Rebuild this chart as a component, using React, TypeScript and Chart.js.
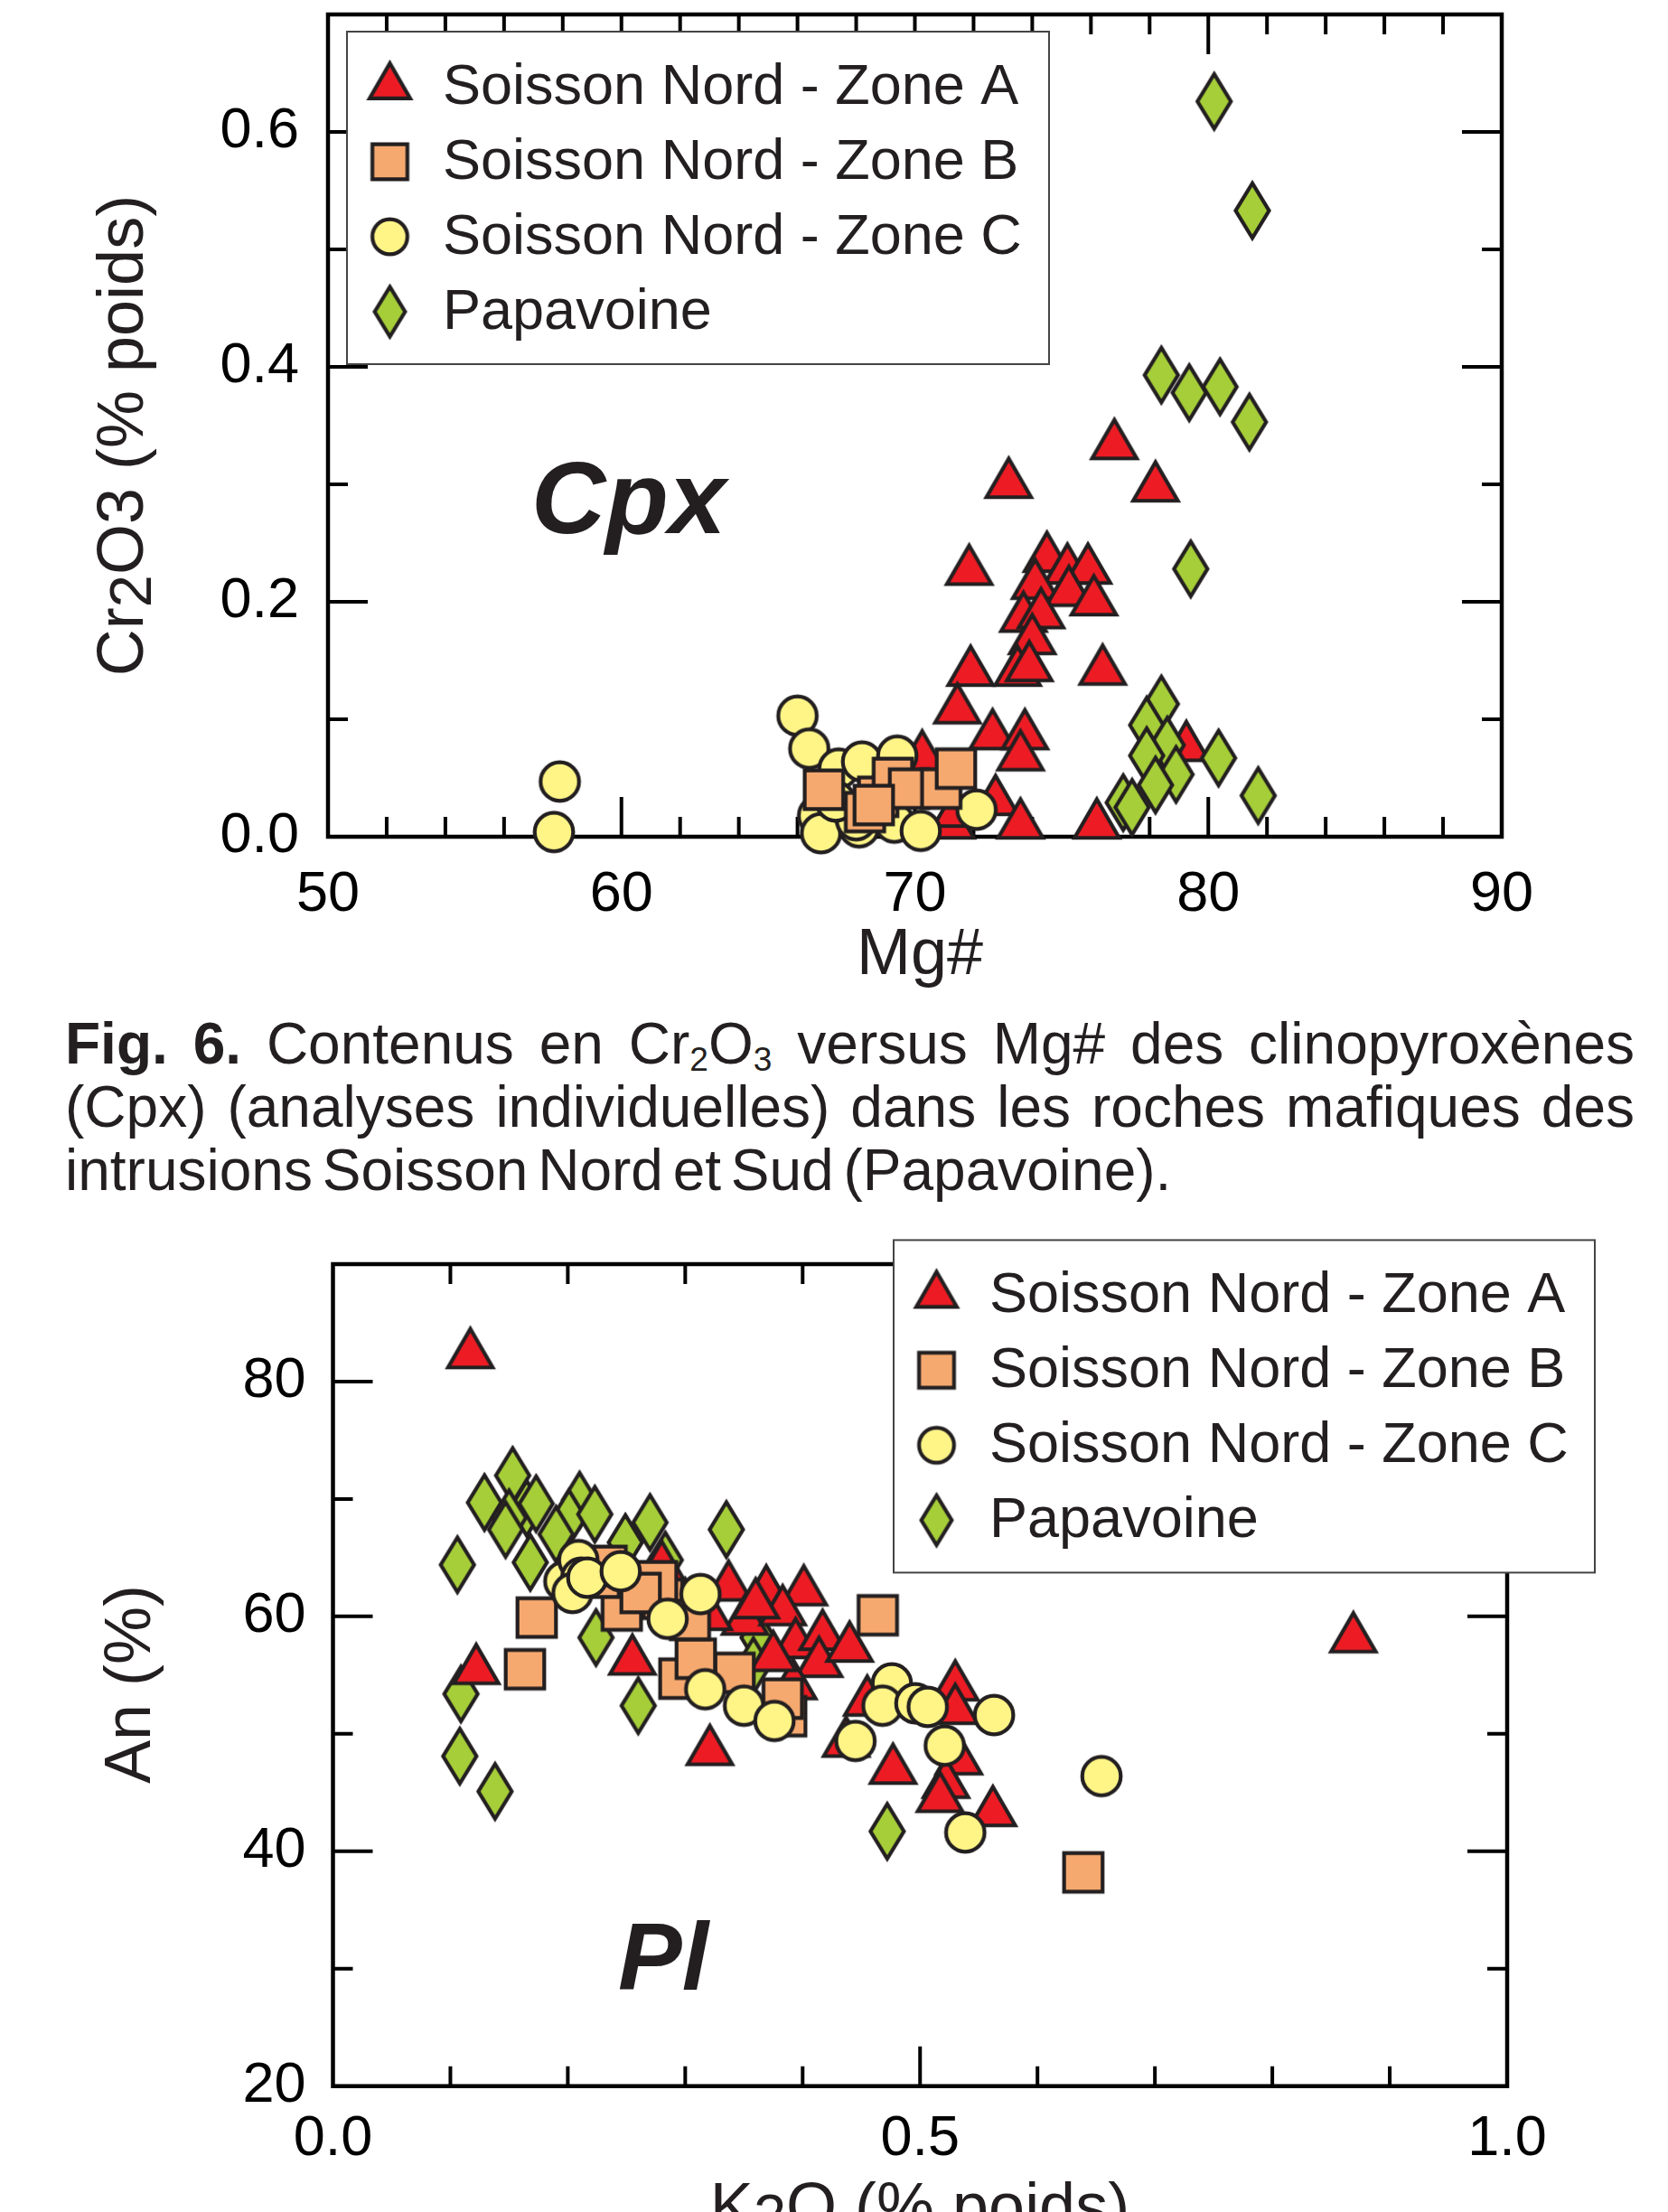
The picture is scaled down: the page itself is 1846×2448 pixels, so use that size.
import React, { useEffect, useRef } from "react";
import { Chart, registerables } from "chart.js";

Chart.register(...registerables);

const FONT = '"Liberation Sans", Arial, Helvetica, sans-serif';
const INK = "#231f20";

// ---------------- Series labels & colours ----------------
const seriesLabels = [
  "Soisson Nord - Zone A",
  "Soisson Nord - Zone B",
  "Soisson Nord - Zone C",
  "Papavoine",
];
const seriesShapes = ["triangle", "square", "circle", "diamond"];
const seriesColors = ["#ed1c24", "#f6a96f", "#fff587", "#a6ce39"];

// ---------------- Cpx chart data (Mg#, Cr2O3 % poids) ----------------
const cpxZoneA: [number, number][] = [
  [76.8, 0.333], [73.2, 0.3], [78.2, 0.297], [71.85, 0.226], [74.5, 0.237],
  [75.2, 0.227], [75.9, 0.227], [74.1, 0.214], [75.25, 0.208], [76.1, 0.2],
  [73.7, 0.186], [74.3, 0.189], [74.0, 0.167], [71.9, 0.14], [73.5, 0.14],
  [73.9, 0.144], [76.4, 0.141], [71.45, 0.108], [72.65, 0.086], [73.75, 0.086],
  [73.6, 0.068], [79.25, 0.076], [72.75, 0.03], [73.6, 0.01], [76.2, 0.01],
  [71.25, 0.01], [70.25, 0.068], [71.4, 0.02],
];
const cpxZoneB: [number, number][] = [
  [66.9, 0.04], [68.3, 0.021], [68.75, 0.034], [69.25, 0.05], [69.8, 0.041],
  [70.9, 0.041], [71.4, 0.058], [68.6, 0.027],
];
const cpxZoneC: [number, number][] = [
  [57.9, 0.047], [57.7, 0.004], [66.0, 0.103], [66.4, 0.075], [67.4, 0.058],
  [68.2, 0.064], [69.4, 0.069], [66.7, 0.018], [66.8, 0.003], [68.1, 0.008],
  [68.0, 0.014], [69.3, 0.012], [70.2, 0.005], [72.1, 0.023], [67.3, 0.03],
];
const cpxPapavoine: [number, number][] = [
  [80.2, 0.626], [81.5, 0.533], [78.4, 0.393], [79.35, 0.378], [80.4, 0.383],
  [81.4, 0.353], [79.4, 0.228], [78.4, 0.113], [77.9, 0.095], [78.6, 0.078],
  [77.9, 0.069], [78.9, 0.053], [78.2, 0.044], [80.35, 0.067], [81.7, 0.035],
  [77.1, 0.029], [77.4, 0.025],
];
const cpxXTickLabels = [50, 60, 70, 80, 90];
const cpxYTickLabels = [0, 0.2, 0.4, 0.6];

// ---------------- Pl chart data (K2O % poids, An %) ----------------
const plZoneA: [number, number][] = [
  [0.117, 82.3], [0.122, 55.4], [0.255, 56.2], [0.321, 48.5], [0.337, 62.5],
  [0.369, 62.1], [0.401, 62.1], [0.351, 59.6], [0.383, 60.4], [0.394, 57.6],
  [0.417, 58.3], [0.414, 56.0], [0.392, 54.1], [0.44, 57.3], [0.455, 52.7],
  [0.437, 49.2], [0.53, 54.0], [0.53, 52.0], [0.533, 47.7], [0.477, 46.9],
  [0.522, 45.7], [0.517, 44.5], [0.562, 43.3], [0.869, 58.1], [0.28, 64.2],
  [0.3, 61.0], [0.32, 60.0], [0.375, 56.5], [0.36, 61.0],
];
const plZoneB: [number, number][] = [
  [0.1735, 59.9], [0.1635, 55.5], [0.295, 54.7], [0.342, 55.2], [0.309, 56.4],
  [0.386, 51.5], [0.383, 53.0], [0.246, 60.5], [0.281, 61.5], [0.276, 63.0],
  [0.227, 63.3], [0.233, 64.3], [0.304, 59.7], [0.262, 62.0], [0.464, 60.1],
  [0.639, 38.2],
];
const plZoneC: [number, number][] = [
  [0.197, 63.0], [0.209, 64.8], [0.2115, 63.3], [0.204, 62.0], [0.2166, 63.3],
  [0.245, 63.85], [0.313, 61.9], [0.285, 59.8], [0.317, 53.8], [0.35, 52.4],
  [0.376, 51.1], [0.476, 54.3], [0.468, 52.4], [0.496, 52.6], [0.5065, 52.3],
  [0.445, 49.4], [0.521, 49.0], [0.563, 51.6], [0.6545, 46.4], [0.5385, 41.6],
];
const plPapavoine: [number, number][] = [
  [0.153, 72.0], [0.129, 69.7], [0.165, 69.2], [0.173, 69.6], [0.15, 68.4],
  [0.147, 67.4], [0.168, 64.6], [0.106, 64.4], [0.21, 69.9], [0.201, 68.4],
  [0.223, 68.7], [0.27, 68.0], [0.335, 67.4], [0.249, 66.3], [0.283, 64.8],
  [0.224, 58.2], [0.362, 58.2], [0.358, 55.8], [0.109, 53.4], [0.26, 52.4],
  [0.108, 48.1], [0.138, 45.1], [0.472, 41.7], [0.19, 67.0],
];
const plXTickLabels = [0, 0.5, 1];
const plYTickLabels = [20, 40, 60, 80];

// ---------------- Caption ----------------
const captionBold = "Fig. 6.";
const captionLine2 = "(Cpx) (analyses individuelles) dans les roches mafiques des";
const captionLine3 = "intrusions Soisson Nord et Sud (Papavoine).";

// ---------------- Marker sprites ----------------
function makeMarker(shape: string, fill: string, k = 1): HTMLCanvasElement {
  const c = document.createElement("canvas");
  c.width = 80;
  c.height = 90;
  const ctx = c.getContext("2d")!;
  ctx.translate(40, 45);
  ctx.beginPath();
  if (shape === "triangle") {
    const r = 28.5 * k;
    const s = Math.sqrt(3) / 2;
    ctx.moveTo(0, -r);
    ctx.lineTo(r * s, r / 2);
    ctx.lineTo(-r * s, r / 2);
    ctx.closePath();
  } else if (shape === "circle") {
    ctx.arc(0, 0, 21.3 * k, 0, Math.PI * 2);
  } else if (shape === "square") {
    const h = 21.3 * k;
    ctx.rect(-h, -h, 2 * h, 2 * h);
  } else {
    const a = 18.5 * k;
    const b = 30.3 * k;
    ctx.moveTo(0, -b);
    ctx.lineTo(a, 0);
    ctx.lineTo(0, b);
    ctx.lineTo(-a, 0);
    ctx.closePath();
  }
  ctx.fillStyle = fill;
  ctx.fill();
  ctx.lineWidth = 4.2;
  ctx.lineJoin = "miter";
  ctx.miterLimit = 10;
  ctx.strokeStyle = INK;
  ctx.stroke();
  return c;
}

type Part = { t: string; sub?: boolean };

function drawParts(ctx: CanvasRenderingContext2D, parts: Part[], size: number) {
  const fonts = parts.map((p) => `${p.sub ? Math.round(size * 0.9) : size}px ${FONT}`);
  let total = 0;
  const widths = parts.map((p, i) => {
    ctx.font = fonts[i];
    const w = ctx.measureText(p.t).width;
    total += w;
    return w;
  });
  let x = -total / 2;
  parts.forEach((p, i) => {
    ctx.font = fonts[i];
    ctx.fillText(p.t, x, p.sub ? size * 0.12 : 0);
    x += widths[i];
  });
}

type Deco = {
  xTitle: Part[];
  xTitleX: number;
  xTitleY: number;
  yTitle: Part[];
  yTitleX: number;
  yTitleY: number;
  tag: string;
  tagX: number;
  tagY: number;
  tagSize: number;
  legend: { left: number; top: number; width: number; height: number };
  xMinor: number;
  yMinor: number;
  xLabels: number[];
  yLabels: number[];
};

function tickValues(min: number, max: number, step: number): number[] {
  const n = Math.round((max - min) / step);
  const out: number[] = [];
  for (let i = 1; i < n; i++) out.push(min + i * step);
  return out;
}

function hasLabel(list: number[], v: number) {
  return list.some((l) => Math.abs(l - v) < 1e-6);
}

function makeDecoPlugin(d: Deco) {
  return {
    id: "deco",
    beforeDatasetsDraw(chart: any) {
      const { ctx, chartArea: a, scales } = chart;
      const xs = scales.x;
      const ys = scales.y;
      const MAJ = 44;
      const MIN = 22;
      ctx.save();
      ctx.strokeStyle = "#000";
      ctx.lineWidth = 4;
      ctx.lineCap = "butt";
      ctx.beginPath();
      tickValues(xs.min, xs.max, d.xMinor).forEach((v) => {
        const px = xs.getPixelForValue(v);
        const len = hasLabel(d.xLabels, v) ? MAJ : MIN;
        ctx.moveTo(px, a.bottom);
        ctx.lineTo(px, a.bottom - len);
        ctx.moveTo(px, a.top);
        ctx.lineTo(px, a.top + len);
      });
      tickValues(ys.min, ys.max, d.yMinor).forEach((v) => {
        const py = ys.getPixelForValue(v);
        const len = hasLabel(d.yLabels, v) ? MAJ : MIN;
        ctx.moveTo(a.left, py);
        ctx.lineTo(a.left + len, py);
        ctx.moveTo(a.right, py);
        ctx.lineTo(a.right - len, py);
      });
      ctx.stroke();
      ctx.lineWidth = 4.5;
      ctx.strokeRect(a.left, a.top, a.right - a.left, a.bottom - a.top);
      ctx.restore();
    },
    afterDraw(chart: any) {
      const ctx: CanvasRenderingContext2D = chart.ctx;
      ctx.save();
      ctx.fillStyle = INK;
      ctx.textBaseline = "alphabetic";
      ctx.textAlign = "left";
      ctx.save();
      ctx.translate(d.xTitleX, d.xTitleY);
      drawParts(ctx, d.xTitle, 72);
      ctx.restore();
      ctx.save();
      ctx.translate(d.yTitleX, d.yTitleY);
      ctx.rotate(-Math.PI / 2);
      drawParts(ctx, d.yTitle, 72);
      ctx.restore();
      ctx.font = `italic bold ${d.tagSize}px ${FONT}`;
      ctx.fillText(d.tag, d.tagX, d.tagY);
      const L = d.legend;
      ctx.fillStyle = "#fff";
      ctx.fillRect(L.left, L.top, L.width, L.height);
      ctx.strokeStyle = "#444";
      ctx.lineWidth = 2;
      ctx.strokeRect(L.left, L.top, L.width, L.height);
      ctx.font = `63px ${FONT}`;
      ctx.fillStyle = INK;
      seriesLabels.forEach((lab, i) => {
        const cy = L.top + 61 + 83 * i;
        const m = legendMarkers[i];
        ctx.drawImage(m, L.left + 47.5 - m.width / 2, cy - m.height / 2);
        ctx.fillText(lab, L.left + 106, cy + 18.5);
      });
      ctx.restore();
    },
  };
}

const plotMarkers = seriesShapes.map((s, i) => makeMarker(s, seriesColors[i], 1));
const legendMarkers = seriesShapes.map((s, i) => makeMarker(s, seriesColors[i], 0.91));

function tickFont() {
  return { family: FONT, size: 63, lineHeight: 1 };
}

function ds(i: number, pts: [number, number][], order: number) {
  return {
    label: seriesLabels[i],
    data: pts.map(([x, y]) => ({ x, y })),
    pointStyle: plotMarkers[i],
    pointRadius: 24,
    pointHoverRadius: 24,
    clip: false as any,
    order,
  };
}

type ChartSpec = {
  width: number;
  height: number;
  top: number;
  datasets: any[];
  xMin: number;
  xMax: number;
  xStep: number;
  xLabels: number[];
  xFmt: (v: number) => string;
  yMin: number;
  yMax: number;
  yStep: number;
  yLabels: number[];
  yFmt: (v: number) => string;
  area: { left: number; right: number; top: number; bottom: number };
  xPad: number;
  yPad: number;
  deco: Deco;
};

function zeroPad(s: any) {
  s.paddingTop = 0;
  s.paddingBottom = 0;
  s.paddingLeft = 0;
  s.paddingRight = 0;
}

function ScatterPanel({ spec }: { spec: ChartSpec }) {
  const ref = useRef<HTMLCanvasElement>(null);
  useEffect(() => {
    const a = spec.area;
    const chart = new Chart(ref.current!, {
      type: "scatter",
      data: { datasets: spec.datasets },
      options: {
        responsive: false,
        maintainAspectRatio: false,
        devicePixelRatio: 1,
        animation: false,
        events: [],
        layout: {
          autoPadding: false,
          padding: { left: 0, top: a.top, right: spec.width - a.right, bottom: 0 },
        },
        plugins: { legend: { display: false }, tooltip: { enabled: false } },
        scales: {
          x: {
            type: "linear",
            min: spec.xMin,
            max: spec.xMax,
            grid: { display: false, drawTicks: false },
            border: { display: false },
            ticks: {
              stepSize: spec.xStep,
              autoSkip: false,
              maxRotation: 0,
              padding: spec.xPad,
              color: "#000",
              font: tickFont(),
              callback: (v: any) => (hasLabel(spec.xLabels, Number(v)) ? spec.xFmt(Number(v)) : null),
            },
            afterFit: (s: any) => {
              s.height = spec.height - a.bottom;
              zeroPad(s);
            },
          },
          y: {
            type: "linear",
            min: spec.yMin,
            max: spec.yMax,
            grid: { display: false, drawTicks: false },
            border: { display: false },
            ticks: {
              stepSize: spec.yStep,
              autoSkip: false,
              padding: spec.yPad,
              color: "#000",
              font: tickFont(),
              callback: (v: any) => (hasLabel(spec.yLabels, Number(v)) ? spec.yFmt(Number(v)) : null),
            },
            afterFit: (s: any) => {
              s.width = a.left;
              zeroPad(s);
            },
          },
        },
      } as any,
      plugins: [makeDecoPlugin(spec.deco) as any],
    });
    return () => chart.destroy();
  }, [spec]);
  return (
    <canvas
      ref={ref}
      width={spec.width}
      height={spec.height}
      style={{ position: "absolute", left: 0, top: spec.top, width: spec.width, height: spec.height, display: "block" }}
    />
  );
}

const cpxSpec: ChartSpec = {
  width: 1846,
  height: 1100,
  top: 0,
  datasets: [
    ds(0, cpxZoneA, 3),
    ds(1, cpxZoneB, 1),
    ds(2, cpxZoneC, 2),
    ds(3, cpxPapavoine, 0),
  ],
  xMin: 50,
  xMax: 90,
  xStep: 2,
  xLabels: cpxXTickLabels,
  xFmt: (v) => String(Math.round(v)),
  yMin: 0,
  yMax: 0.7,
  yStep: 0.1,
  yLabels: cpxYTickLabels,
  yFmt: (v) => v.toFixed(1),
  area: { left: 363, right: 1662, top: 16, bottom: 926 },
  xPad: 33,
  yPad: 32,
  deco: {
    xTitle: [{ t: "Mg#" }],
    xTitleX: 1018,
    xTitleY: 1078,
    yTitle: [{ t: "Cr" }, { t: "2", sub: true }, { t: "O" }, { t: "3" }, { t: " (% poids)" }],
    yTitleX: 158,
    yTitleY: 482,
    tag: "Cpx",
    tagX: 588,
    tagY: 590,
    tagSize: 114,
    legend: { left: 384, top: 35, width: 777, height: 368 },
    xMinor: 2,
    yMinor: 0.1,
    xLabels: cpxXTickLabels,
    yLabels: cpxYTickLabels,
  },
};

const PL_TOP = 1340;
const plSpec: ChartSpec = {
  width: 1846,
  height: 2448 - PL_TOP,
  top: PL_TOP,
  datasets: [
    ds(0, plZoneA, 2),
    ds(1, plZoneB, 1),
    ds(2, plZoneC, 0),
    ds(3, plPapavoine, 3),
  ],
  xMin: 0,
  xMax: 1,
  xStep: 0.1,
  xLabels: plXTickLabels,
  xFmt: (v) => v.toFixed(1),
  yMin: 20,
  yMax: 90,
  yStep: 10,
  yLabels: plYTickLabels,
  yFmt: (v) => String(Math.round(v)),
  area: { left: 368.5, right: 1668, top: 1399 - PL_TOP, bottom: 2308.7 - PL_TOP },
  xPad: 27,
  yPad: 30,
  deco: {
    xTitle: [{ t: "K" }, { t: "2", sub: true }, { t: "O (% poids)" }],
    xTitleX: 1018,
    xTitleY: 2465.5 - PL_TOP,
    yTitle: [{ t: "An (%)" }],
    yTitleX: 166,
    yTitleY: 1864 - PL_TOP,
    tag: "Pl",
    tagX: 684,
    tagY: 2202 - PL_TOP,
    tagSize: 106,
    legend: { left: 989, top: 1372.4 - PL_TOP, width: 776, height: 368 },
    xMinor: 0.1,
    yMinor: 10,
    xLabels: [0.5],
    yLabels: plYTickLabels,
  },
};

const lineBase: React.CSSProperties = {
  position: "absolute",
  left: 72,
  width: 1737,
  height: 70,
  fontFamily: FONT,
  fontSize: 64,
  lineHeight: "70px",
  color: INK,
  textAlign: "justify",
  whiteSpace: "normal",
};
const subStyle: React.CSSProperties = { fontSize: "0.58em", verticalAlign: "-0.22em", lineHeight: 0 };

function Caption() {
  return (
    <>
      <div style={{ ...lineBase, top: 1120, textAlignLast: "justify" } as any}>
        <b>{captionBold}</b> Contenus en Cr<span style={subStyle}>2</span>O<span style={subStyle}>3</span> versus Mg# des clinopyroxènes
      </div>
      <div style={{ ...lineBase, top: 1190, textAlignLast: "justify" } as any}>{captionLine2}</div>
      <div style={{ ...lineBase, top: 1260, textAlignLast: "left", wordSpacing: -7 } as any}>{captionLine3}</div>
    </>
  );
}

export default function App() {
  return (
    <div style={{ position: "absolute", left: 0, top: 0, width: 1846, height: 2448, overflow: "hidden", background: "#fff" }}>
      <ScatterPanel spec={cpxSpec} />
      <Caption />
      <ScatterPanel spec={plSpec} />
    </div>
  );
}
